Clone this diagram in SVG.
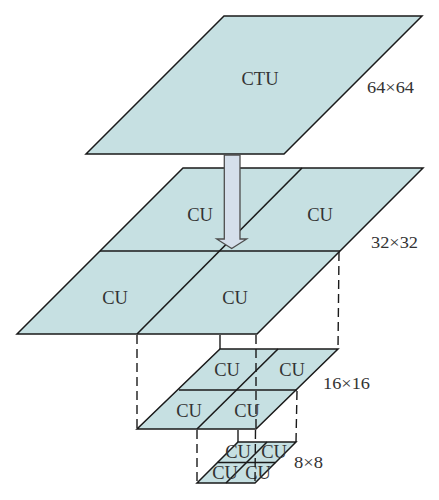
<svg xmlns="http://www.w3.org/2000/svg" width="439" height="500" viewBox="0 0 439 500">
<style>
.face{fill:#c6e0e2;stroke:#1a1a1a;stroke-width:1.5;stroke-linejoin:miter}
.div{fill:none;stroke:#1a1a1a;stroke-width:1.6}
.lbl{font-family:"Liberation Serif","Times New Roman",serif;font-size:18.5px;fill:#333;text-anchor:middle}
.size{font-family:"Liberation Serif","Times New Roman",serif;font-size:17px;fill:#333}
.dash{fill:none;stroke:#1a1a1a;stroke-width:1.4;stroke-dasharray:9 5}
.solid{fill:none;stroke:#1a1a1a;stroke-width:1.4}
.arrow{fill:#d5dfeb;stroke:#4d4d4d;stroke-width:1.3}
</style>
<rect width="439" height="500" fill="#fff"/>
<g id="ctu">
<polygon class="face" points="224,16 422,16 284,154 86,154"/>
<text class="lbl" x="260" y="85">CTU</text>
<text class="size" x="367" y="93" textLength="47" lengthAdjust="spacingAndGlyphs">64×64</text>
</g>
<g id="layer32">
<polygon class="face" points="183,168 423,168 257,334 17,334"/>
<line class="div" x1="100" y1="251" x2="340" y2="251"/>
<line class="div" x1="302" y1="168" x2="137" y2="334"/>
<text class="lbl" x="200" y="221">CU</text>
<text class="lbl" x="320" y="221">CU</text>
<text class="lbl" x="115" y="304">CU</text>
<text class="lbl" x="235" y="304">CU</text>
<text class="size" x="371" y="248" textLength="47" lengthAdjust="spacingAndGlyphs">32×32</text>
</g>
<g id="layer16">
<polygon class="face" points="220,349 338,349 256,429 137,429"/>
<line class="div" x1="179" y1="390" x2="297" y2="390"/>
<line class="div" x1="278" y1="349" x2="197" y2="429"/>
<text class="lbl" x="227" y="376">CU</text>
<text class="lbl" x="292" y="376">CU</text>
<text class="lbl" x="189" y="416.5">CU</text>
<text class="lbl" x="247" y="416.5">CU</text>
<text class="size" x="323" y="389" textLength="47" lengthAdjust="spacingAndGlyphs">16×16</text>
</g>
<g id="layer8">
<polygon class="face" points="238,442 296,442 255,483 197,483"/>
<line class="div" x1="217.5" y1="462.5" x2="275.5" y2="462.5"/>
<line class="div" x1="267" y1="442" x2="226" y2="483"/>
<text class="lbl" x="238" y="457.5">CU</text>
<text class="lbl" x="274" y="457.5">CU</text>
<text class="lbl" x="225" y="478.5">CU</text>
<text class="lbl" x="258" y="478.5">CU</text>
<text class="size" x="294" y="468" textLength="29" lengthAdjust="spacingAndGlyphs">8×8</text>
</g>
<g id="connectors">
<path class="arrow" d="M224.3,155 V239 H216.7 L231.7,248.5 L246.7,239 H240 V155 Z"/>
<line class="dash" x1="339" y1="252" x2="338" y2="349"/>
<line class="dash" x1="137" y1="335" x2="137" y2="429"/>
<line class="solid" x1="220" y1="335" x2="220" y2="349"/>
<line class="dash" x1="256" y1="335" x2="256" y2="429"/>
<line class="dash" x1="297" y1="391" x2="296" y2="442"/>
<line class="dash" x1="197" y1="430" x2="197" y2="483"/>
<line class="solid" x1="238" y1="430" x2="238" y2="442"/>
<line class="dash" x1="255.5" y1="430" x2="255" y2="483"/>
</g>
</svg>
